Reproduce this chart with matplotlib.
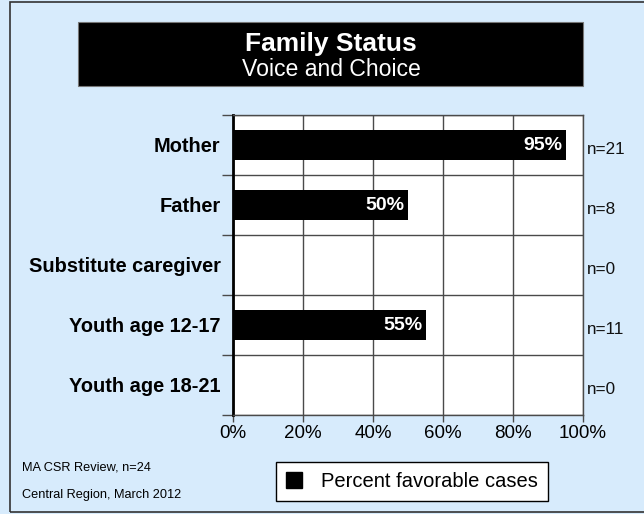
import numpy as np
import matplotlib.pyplot as plt
from matplotlib.patches import Rectangle, Patch

plt.rcParams['font.family'] = ['Liberation Sans', 'DejaVu Sans']

categories = ['Mother', 'Father', 'Substitute caregiver', 'Youth age 12-17', 'Youth age 18-21']
percent = [95, 50, 0, 55, 0]
n_cases = [21, 8, 0, 11, 0]
xticks = [0, 20, 40, 60, 80, 100]

BG = '#d7ebfc'
GRID = '#4a4a4a'

fig = plt.figure(figsize=(6.44, 5.14), dpi=100)
fig.patch.set_facecolor(BG)

# outer frame
W, H = 644, 514
fig.patches.append(Rectangle((10 / W, 2 / H), 1.2, 1 - 4 / H, transform=fig.transFigure,
                             facecolor='none', edgecolor='#333333', lw=1.2))

# title block
fig.patches.append(Rectangle((78 / W, 1 - 86 / H), 505 / W, 64 / H, transform=fig.transFigure,
                             facecolor='black', edgecolor='#777777', lw=0.8))
fig.text(331 / W, 1 - 44 / H, 'Family Status', color='white', fontsize=19,
         fontweight='bold', ha='center', va='center')
fig.text(331 / W, 1 - 70 / H, 'Voice and Choice', color='white', fontsize=16.6,
         ha='center', va='center')

ax = fig.add_axes([233 / W, 1 - 415 / H, 350 / W, 300 / H])
ax.set_facecolor('white')
y = np.arange(len(categories))
ax.barh(y, percent, height=0.5, color='black', zorder=3)
ax.set_xlim(0, 100)
ax.set_ylim(len(categories) - 0.5, -0.5)

for i, (p, n) in enumerate(zip(percent, n_cases)):
    if p > 0:
        ax.text(p - 1, i, f'{p}%', color='white', fontsize=14, fontweight='bold',
                ha='right', va='center', zorder=4)
    ax.text(101.2, i + 0.08, f'n={n}', fontsize=12.3, ha='left', va='center',
            color='#111111', clip_on=False)

ax.set_xticks(xticks)
ax.set_xticklabels([f'{t}%' for t in xticks], fontsize=13.5)
ax.set_yticks(y)
ax.set_yticklabels(categories, fontsize=14.4, fontweight='bold')
ax.tick_params(axis='y', length=0, pad=9)
ax.tick_params(axis='x', length=5, width=1, color=GRID, pad=2)

# gridlines between rows and at each 20%
ax.set_yticks(np.arange(len(categories) + 1) - 0.5, minor=True)
ax.tick_params(axis='y', which='minor', length=8, width=1, color=GRID)
ax.grid(True, which='minor', axis='y', color=GRID, lw=1, zorder=1)
ax.grid(True, which='major', axis='x', color=GRID, lw=1, zorder=1)
ax.set_axisbelow(True)
for s in ['top', 'right', 'bottom']:
    ax.spines[s].set_color(GRID)
    ax.spines[s].set_linewidth(1)
ax.spines['left'].set_linewidth(2)
ax.spines['left'].set_color('black')

fig.text(22 / W, 1 - 468 / H, 'MA CSR Review, n=24', fontsize=9.2, va='center')
fig.text(22 / W, 1 - 495 / H, 'Central Region, March 2012', fontsize=9.2, va='center')

leg = fig.legend(handles=[Patch(facecolor='black', edgecolor='black')],
                 labels=['Percent favorable cases'], loc='center',
                 bbox_to_anchor=(412 / W, 1 - 481.5 / H), fontsize=14.5,
                 fancybox=False, edgecolor='black', framealpha=1,
                 handlelength=0.8, handleheight=0.8, handletextpad=0.95,
                 borderpad=0.5, borderaxespad=0)
leg.get_frame().set_linewidth(1)

fig.savefig('out.png', dpi=100, facecolor=BG)
